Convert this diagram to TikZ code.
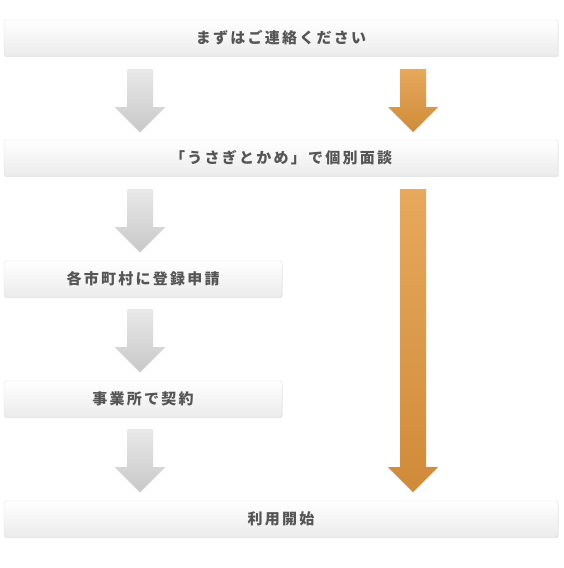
\documentclass[tikz,border=0pt]{standalone}
\usepackage{fontspec}
\newfontfamily\jpfont[LetterSpace=15]{Noto Sans CJK JP}
\usetikzlibrary{calc,shadows}
\definecolor{boxtext}{HTML}{555555}
\definecolor{boxline}{HTML}{DEDEDE}
\definecolor{boxbottom}{HTML}{EBEBEB}
\definecolor{graytop}{HTML}{E9E9E9}
\definecolor{graybot}{HTML}{C8C8C8}
\definecolor{orangetop}{HTML}{E6A95D}
\definecolor{orangebot}{HTML}{D08B39}
\newcommand{\flowarrow}[3]{%
\path[#1] let \p1=(#2), \p2=(#3) in
 (\x1-13pt,\y1) -- (\x1+13pt,\y1) -- (\x1+13pt,\y2+25pt) -- (\x1+25pt,\y2+25pt)
 -- (\x1,\y2) -- (\x1-25pt,\y2+25pt) -- (\x1-13pt,\y2+25pt) -- cycle;}
\begin{document}
\begin{tikzpicture}[x=1pt,y=-1pt,
 stepbox/.style={draw=boxline, rounded corners=2pt, top color=white, bottom color=boxbottom,
   minimum height=36pt, inner sep=0pt, text=boxtext, font=\jpfont\bfseries\fontsize{15}{18}\selectfont,
   drop shadow={opacity=0.18, shadow xshift=0.6pt, shadow yshift=-1pt}},
 wide/.style={minimum width=554pt},
 half/.style={minimum width=278pt},
 grayarrow/.style={top color=graytop, bottom color=graybot, drop shadow={opacity=0.12, shadow xshift=0pt, shadow yshift=-1pt}},
 orangearrow/.style={top color=orangetop, bottom color=orangebot, drop shadow={opacity=0.12, shadow xshift=0pt, shadow yshift=-1pt}}]
\useasboundingbox (0,0) rectangle (563,568);
\node[stepbox, wide] (contact) at (281,38) {まずはご連絡ください};
\node[stepbox, wide] (talk) at (281,158) {「うさぎとかめ」で個別面談};
\node[stepbox, half] (apply) at (143,279) {各市町村に登録申請};
\node[stepbox, half] (contract) at (143,399) {事業所で契約};
\node[stepbox, wide] (start) at (281,519) {利用開始};
% arrows
\coordinate (g1s) at (140,69);
\coordinate (g1e) at (140,132);
\coordinate (g2s) at (140,189);
\coordinate (g2e) at (140,252);
\coordinate (g3s) at (140,309);
\coordinate (g3e) at (140,372);
\coordinate (g4s) at (140,429);
\coordinate (g4e) at (140,492);
\coordinate (o1s) at (413,69);
\coordinate (o1e) at (413,132);
\coordinate (o2s) at (413,189);
\coordinate (o2e) at (413,492);
\flowarrow{grayarrow}{g1s}{g1e}
\flowarrow{grayarrow}{g2s}{g2e}
\flowarrow{grayarrow}{g3s}{g3e}
\flowarrow{grayarrow}{g4s}{g4e}
\flowarrow{orangearrow}{o1s}{o1e}
\flowarrow{orangearrow}{o2s}{o2e}
\end{tikzpicture}
\end{document}
